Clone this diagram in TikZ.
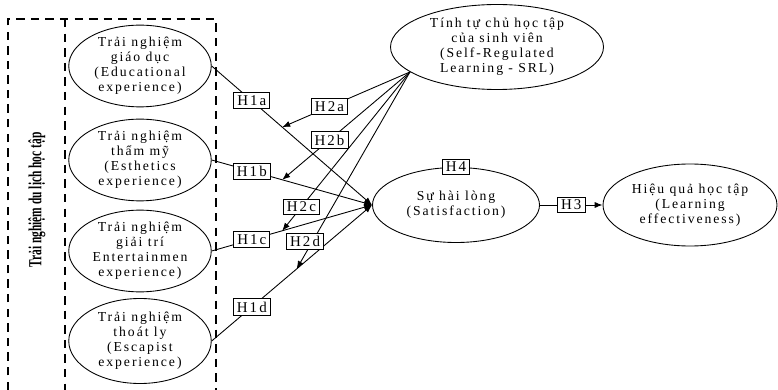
\documentclass[tikz,border=0pt]{standalone}
\usepackage{fontspec}
\setmainfont{Liberation Serif}[LetterSpace=14]
\newfontfamily\titlefont{Liberation Serif}[FakeStretch=0.62]
\usetikzlibrary{shapes.geometric,arrows.meta}

\begin{document}
\begin{tikzpicture}[
  every node/.style={font=\fontsize{7.8}{8.6}\selectfont},
  construct/.style={draw,ellipse,inner sep=0pt,align=center,line width=0.5pt},
  hyp/.style={draw,fill=white,inner xsep=2pt,inner ysep=1.6pt,line width=0.5pt,font=\fontsize{8.5}{10}\selectfont},
  link/.style={line width=0.5pt,-{Latex[length=4.5pt,width=3.5pt]}},
  frame/.style={line width=1.1pt,dash pattern=on 4.8pt off 3.5pt}
]
\useasboundingbox (0,0) rectangle (15.56,-7.8);

\draw[frame] (0.16,-7.8) -- (0.16,-0.38) -- (4.32,-0.38) -- (4.32,-7.8);
\draw[frame] (1.3,-0.38) -- (1.3,-7.8);

\node[rotate=90,font=\titlefont\bfseries\fontsize{10.5}{12}\selectfont] (title) at (0.74,-4.0) {Trải nghiệm du lịch học tập};

\node[construct,minimum width=2.85cm,minimum height=1.5cm] (edu) at (2.8,-1.32) {Trải nghiệm\\giáo dục\\(Educational\\experience)};

\node[construct,minimum width=2.85cm,minimum height=1.55cm] (esth) at (2.8,-3.2) {Trải nghiệm\\thẩm mỹ\\(Esthetics\\experience)};

\node[construct,minimum width=2.85cm,minimum height=1.6cm] (ent) at (2.8,-5.02) {Trải nghiệm\\giải trí\\Entertainmen\\experience)};

\node[construct,minimum width=2.85cm,minimum height=1.7cm] (esc) at (2.8,-6.82) {Trải nghiệm\\thoát ly\\(Escapist\\experience)};

\node[construct,minimum width=4.26cm,minimum height=1.7cm] (srl) at (9.94,-0.94) {Tính tự chủ học tập\\của sinh viên\\(Self-Regulated\\Learning - SRL)};

\node[construct,minimum width=3.34cm,minimum height=1.5cm] (sat) at (9.12,-4.1) {Sự hài lòng\\(Satisfaction)};

\node[construct,minimum width=3.48cm,minimum height=1.64cm] (learn) at (13.8,-4.1) {Hiệu quả học tập\\(Learning\\effectiveness)};

% direct effects
\draw[link] (edu.east) -- node[hyp,pos=.25] (h1a) {H1a} coordinate[pos=.44] (m1a) (sat.west);
\draw[link] (esth.east) -- node[hyp,pos=.25] (h1b) {H1b} coordinate[pos=.44] (m1b) (sat.west);
\draw[link] (ent.east) -- node[hyp,pos=.25] (h1c) {H1c} coordinate[pos=.44] (m1c) (sat.west);
\draw[link] (esc.east) -- node[hyp,pos=.25] (h1d) {H1d} coordinate[pos=.53] (m1d) (sat.west);

% moderation by SRL
\draw[link] (srl.196) -- node[hyp,pos=.63] (h2a) {H2a} (m1a);
\draw[link] (srl.196) -- node[hyp,pos=.63] (h2b) {H2b} (m1b);
\draw[link] (srl.196) -- node[hyp,pos=.85] (h2c) {H2c} (m1c);
\draw[link] (srl.196) -- node[hyp,pos=.86,xshift=-0.15cm] (h2d) {H2d} (m1d);

\draw[link] (sat.east) -- node[hyp] (h3) {H3} (learn.west);
\node[hyp] (h4) at (sat.north) {H4};

\end{tikzpicture}
\end{document}
